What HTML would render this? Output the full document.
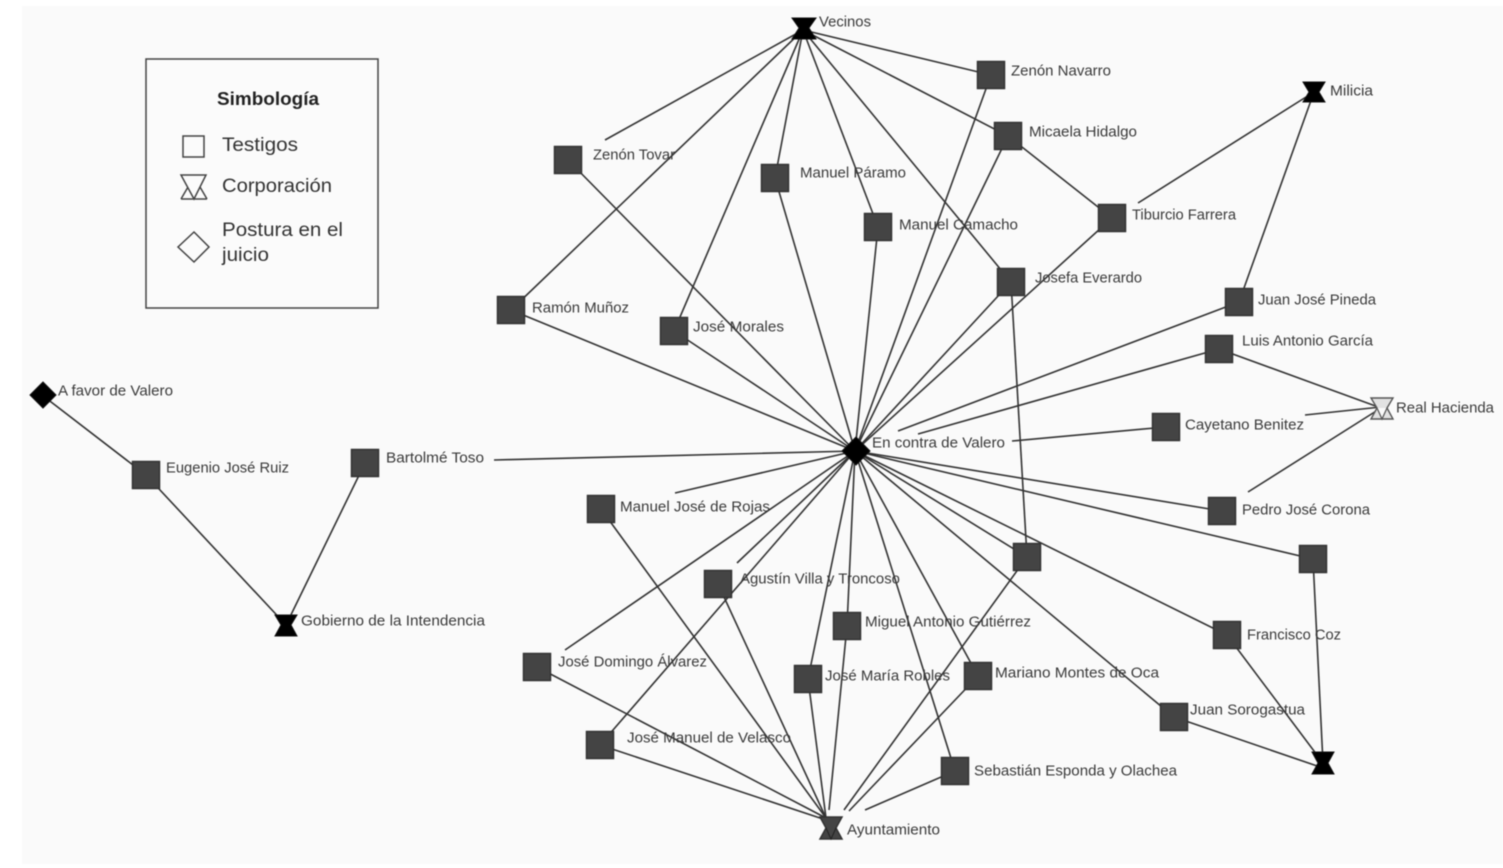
<!DOCTYPE html>
<html lang="es"><head><meta charset="utf-8"><title>Red de actores</title>
<style>
html,body{margin:0;padding:0;background:#fff;width:1503px;height:868px;overflow:hidden}
svg{display:block;filter:blur(.45px)}
text{font-family:"Liberation Sans",sans-serif;font-size:14.5px;fill:#3a3a3a}
.l line{stroke:#333;stroke-width:1.6}
.s rect{fill:#444;stroke:#333;stroke-width:1.5}
.k{fill:#000;stroke:#111;stroke-width:1}
.g{font-size:19px;fill:#333}
</style></head><body>
<svg width="1503" height="868" viewBox="0 0 1503 868" xmlns="http://www.w3.org/2000/svg">
<rect x="22" y="6" width="1481" height="858" fill="#fafafa"/>
<g class="l">
<!-- Vecinos -->
<line x1="803" y1="30" x2="605" y2="140"/><line x1="803" y1="30" x2="511" y2="310"/><line x1="803" y1="30" x2="674" y2="331"/><line x1="803" y1="30" x2="775" y2="178"/><line x1="803" y1="30" x2="878" y2="227"/><line x1="803" y1="30" x2="1011" y2="282"/><line x1="803" y1="30" x2="1008" y2="136"/><line x1="803" y1="30" x2="991" y2="75"/>
<!-- Hub upper -->
<line x1="855" y1="451" x2="568" y2="160"/><line x1="855" y1="451" x2="511" y2="310"/><line x1="855" y1="451" x2="674" y2="331"/><line x1="855" y1="451" x2="775" y2="178"/><line x1="855" y1="451" x2="878" y2="227"/><line x1="855" y1="451" x2="991" y2="75"/><line x1="855" y1="451" x2="1008" y2="136"/><line x1="855" y1="451" x2="1011" y2="282"/><line x1="855" y1="451" x2="1112" y2="218"/>
<line x1="898" y1="431" x2="1239" y2="302"/><line x1="918" y1="434" x2="1219" y2="349"/><line x1="1012" y1="441" x2="1166" y2="427"/>
<!-- Hub lower -->
<line x1="855" y1="451" x2="1222" y2="511"/><line x1="855" y1="451" x2="1313" y2="559"/><line x1="855" y1="451" x2="1227" y2="635"/><line x1="855" y1="451" x2="1174" y2="717"/><line x1="855" y1="451" x2="1027" y2="557"/><line x1="855" y1="451" x2="494" y2="460"/><line x1="855" y1="451" x2="675" y2="493"/><line x1="855" y1="451" x2="737" y2="563"/><line x1="855" y1="451" x2="565" y2="650"/><line x1="855" y1="451" x2="600" y2="745"/><line x1="855" y1="451" x2="847" y2="626"/><line x1="855" y1="451" x2="808" y2="679"/><line x1="855" y1="451" x2="978" y2="676"/><line x1="855" y1="451" x2="955" y2="771"/>
<!-- Ayuntamiento -->
<line x1="601" y1="509" x2="826" y2="818"/><line x1="718" y1="584" x2="826" y2="818"/><line x1="847" y1="626" x2="829" y2="810"/><line x1="808" y1="679" x2="826" y2="818"/><line x1="537" y1="667" x2="826" y2="818"/><line x1="600" y1="745" x2="826" y2="820"/><line x1="978" y1="676" x2="849" y2="811"/><line x1="1027" y1="557" x2="844" y2="810"/><line x1="955" y1="771" x2="865" y2="810"/>
<!-- Others -->
<line x1="1011" y1="282" x2="1027" y2="557"/><line x1="1008" y1="136" x2="1112" y2="218"/><line x1="1138" y1="203" x2="1314" y2="92"/><line x1="1239" y1="302" x2="1314" y2="92"/>
<line x1="1219" y1="349" x2="1381" y2="408"/><line x1="1305" y1="415" x2="1381" y2="407"/><line x1="1248" y1="492" x2="1381" y2="408"/>
<line x1="1313" y1="559" x2="1323" y2="763"/><line x1="1227" y1="635" x2="1323" y2="763"/><line x1="1174" y1="717" x2="1323" y2="768"/>
<line x1="42" y1="395" x2="146" y2="475"/><line x1="146" y1="475" x2="286" y2="625"/><line x1="365" y1="463" x2="286" y2="625"/>
</g>
<g class="s">
<rect x="977.500" y="61.500" width="27" height="27"/><rect x="994.500" y="122.500" width="27" height="27"/><rect x="554.500" y="146.500" width="27" height="27"/><rect x="761.500" y="164.500" width="27" height="27"/><rect x="1098.500" y="204.500" width="27" height="27"/><rect x="864.500" y="213.500" width="27" height="27"/><rect x="997.500" y="268.500" width="27" height="27"/><rect x="1225.500" y="288.500" width="27" height="27"/><rect x="497.500" y="296.500" width="27" height="27"/><rect x="660.500" y="317.500" width="27" height="27"/><rect x="1205.500" y="335.500" width="27" height="27"/><rect x="1152.500" y="413.500" width="27" height="27"/><rect x="351.500" y="449.500" width="27" height="27"/><rect x="132.500" y="461.500" width="27" height="27"/><rect x="587.500" y="495.500" width="27" height="27"/><rect x="1208.500" y="497.500" width="27" height="27"/><rect x="1013.500" y="543.500" width="27" height="27"/><rect x="1299.500" y="545.500" width="27" height="27"/><rect x="704.500" y="570.500" width="27" height="27"/><rect x="833.500" y="612.500" width="27" height="27"/><rect x="1213.500" y="621.500" width="27" height="27"/><rect x="523.500" y="653.500" width="27" height="27"/><rect x="794.500" y="665.500" width="27" height="27"/><rect x="964.500" y="662.500" width="27" height="27"/><rect x="1160.500" y="703.500" width="27" height="27"/><rect x="586.500" y="731.500" width="27" height="27"/><rect x="941.500" y="757.500" width="27" height="27"/>
</g>
<polygon class="k" points="856,437 870,451 856,465 842,451"/>
<polygon class="k" points="43,382 56,395 43,408 30,395"/>
<polygon class="k" points="792,18 816,18 809,28 816,39 792,39 799,28"/>
<polygon class="k" points="1303,82 1325,82 1319,92 1325,102 1303,102 1309,92"/>
<polygon class="k" points="275,615 297,615 291,625 297,636 275,636 281,625"/>
<polygon class="k" points="1312,752 1334,752 1328,763 1334,774 1312,774 1318,763"/>
<polygon points="820,817 842,817 836,828 842,839 820,839 826,828" fill="#444" stroke="#333" stroke-width="1.5"/>
<path d="M826 828L831 839L836 828" fill="none" stroke="#222" stroke-width="1"/>
<polygon points="1371,398 1393,398 1387,408 1393,419 1371,419 1377,408" fill="#e2e2e2" stroke="#555" stroke-width="1.4"/>
<path d="M1377 408L1382 419L1387 408" fill="#fafafa" stroke="#555" stroke-width="1.2"/>
<g transform="translate(0,0.7)">
<text x="819" y="26" textLength="52" lengthAdjust="spacingAndGlyphs">Vecinos</text>
<text x="1011" y="75" textLength="100" lengthAdjust="spacingAndGlyphs">Zenón Navarro</text>
<text x="1330" y="95" textLength="43" lengthAdjust="spacingAndGlyphs">Milicia</text>
<text x="1029" y="136" textLength="108" lengthAdjust="spacingAndGlyphs">Micaela Hidalgo</text>
<text x="593" y="159" textLength="82" lengthAdjust="spacingAndGlyphs">Zenón Tovar</text>
<text x="800" y="177" textLength="106" lengthAdjust="spacingAndGlyphs">Manuel Páramo</text>
<text x="1132" y="219" textLength="104" lengthAdjust="spacingAndGlyphs">Tiburcio Farrera</text>
<text x="899" y="229" textLength="119" lengthAdjust="spacingAndGlyphs">Manuel Camacho</text>
<text x="1035" y="282" textLength="107" lengthAdjust="spacingAndGlyphs">Josefa Everardo</text>
<text x="1258" y="304" textLength="118" lengthAdjust="spacingAndGlyphs">Juan José Pineda</text>
<text x="532" y="312" textLength="97" lengthAdjust="spacingAndGlyphs">Ramón Muñoz</text>
<text x="693" y="331" textLength="91" lengthAdjust="spacingAndGlyphs">José Morales</text>
<text x="1242" y="345" textLength="131" lengthAdjust="spacingAndGlyphs">Luis Antonio García</text>
<text x="58" y="395" textLength="115" lengthAdjust="spacingAndGlyphs">A favor de Valero</text>
<text x="1396" y="412" textLength="98" lengthAdjust="spacingAndGlyphs">Real Hacienda</text>
<text x="1185" y="429" textLength="119" lengthAdjust="spacingAndGlyphs">Cayetano Benitez</text>
<text x="872" y="447" textLength="133" lengthAdjust="spacingAndGlyphs">En contra de Valero</text>
<text x="386" y="462" textLength="98" lengthAdjust="spacingAndGlyphs">Bartolmé Toso</text>
<text x="166" y="472" textLength="123" lengthAdjust="spacingAndGlyphs">Eugenio José Ruiz</text>
<text x="620" y="511" textLength="150" lengthAdjust="spacingAndGlyphs">Manuel José de Rojas</text>
<text x="1242" y="514" textLength="128" lengthAdjust="spacingAndGlyphs">Pedro José Corona</text>
<text x="740" y="583" textLength="160" lengthAdjust="spacingAndGlyphs">Agustín Villa y Troncoso</text>
<text x="301" y="625" textLength="184" lengthAdjust="spacingAndGlyphs">Gobierno de la Intendencia</text>
<text x="865" y="626" textLength="166" lengthAdjust="spacingAndGlyphs">Miguel Antonio Gutiérrez</text>
<text x="1247" y="639" textLength="94" lengthAdjust="spacingAndGlyphs">Francisco Coz</text>
<text x="558" y="666" textLength="149" lengthAdjust="spacingAndGlyphs">José Domingo Álvarez</text>
<text x="995" y="677" textLength="164" lengthAdjust="spacingAndGlyphs">Mariano Montes de Oca</text>
<text x="825" y="680" textLength="125" lengthAdjust="spacingAndGlyphs">José María Robles</text>
<text x="1190" y="714" textLength="115" lengthAdjust="spacingAndGlyphs">Juan Sorogastua</text>
<text x="627" y="742" textLength="164" lengthAdjust="spacingAndGlyphs">José Manuel de Velasco</text>
<text x="974" y="775" textLength="203" lengthAdjust="spacingAndGlyphs">Sebastián Esponda y Olachea</text>
<text x="847" y="834" textLength="93" lengthAdjust="spacingAndGlyphs">Ayuntamiento</text>
</g>
<!-- Legend -->
<rect x="146" y="59" width="232" height="249" fill="#fbfbfb" stroke="#444" stroke-width="1.5"/>
<text x="217" y="105" textLength="102" lengthAdjust="spacingAndGlyphs" style="font-size:18px;font-weight:bold;fill:#222">Simbología</text>
<text class="g" x="222" y="151" textLength="76" lengthAdjust="spacingAndGlyphs">Testigos</text>
<text class="g" x="222" y="192" textLength="110" lengthAdjust="spacingAndGlyphs">Corporación</text>
<text class="g" x="222" y="236" textLength="121" lengthAdjust="spacingAndGlyphs">Postura en el</text>
<text class="g" x="222" y="261" textLength="47" lengthAdjust="spacingAndGlyphs">juicio</text>
<rect x="183" y="136" width="21" height="21" fill="none" stroke="#444" stroke-width="1.5"/>
<path d="M181 175H206L194 199ZM181 199H207M181 199L188 187M207 199L200 187" fill="none" stroke="#444" stroke-width="1.5"/>
<polygon points="194,232 209,247 194,262 178,247" fill="none" stroke="#444" stroke-width="1.5"/>
</svg>
</body></html>
